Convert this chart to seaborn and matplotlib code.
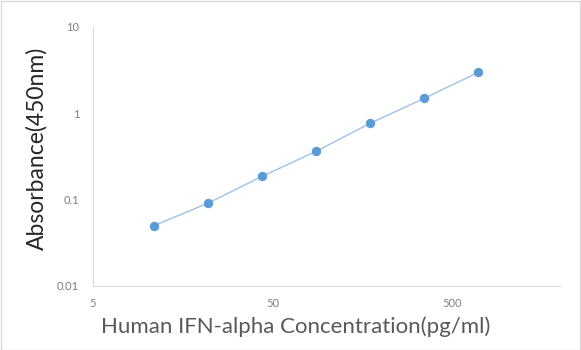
import matplotlib
matplotlib.use("Agg")
import matplotlib.pyplot as plt
import seaborn as sns
import numpy as np
import pandas as pd
from matplotlib.ticker import FixedLocator, NullFormatter

concentration = [10.94, 21.88, 43.75, 87.5, 175, 350, 700]
absorbance = [0.050, 0.091, 0.186, 0.363, 0.766, 1.49, 2.98]
x_ticks = [5, 50, 500]
x_tick_labels = ["5", "50", "500"]
y_ticks = [0.01, 0.1, 1, 10]
y_tick_labels = ["0.01", "0.1", "1", "10"]

sns.set_style("white")
plt.rcParams['font.family'] = ['Lato', 'DejaVu Sans']

fig = plt.figure(figsize=(5.81, 3.5), dpi=100)
ax = fig.add_axes([0.160, 0.183, 0.804, 0.740])

df = pd.DataFrame({"conc": concentration, "abs": absorbance})
sns.lineplot(data=df, x="conc", y="abs", ax=ax, color="#9DC3E6", linewidth=1.0,
             marker="o", markersize=6, markerfacecolor="#5B9BD5",
             markeredgecolor="#5B9BD5", zorder=3)

ax.set_xscale("log")
ax.set_yscale("log")
ax.set_xlim(5, 2000)
ax.set_ylim(0.01, 10)

ax.set_xticks(x_ticks)
ax.set_xticklabels(x_tick_labels)
ax.set_yticks(y_ticks)
ax.set_yticklabels(y_tick_labels)

xminor = [5 * 10**d * k for d in range(3) for k in range(2, 10)]
xminor = [v for v in xminor if v <= 2000]
yminor = [10.0**d * k for d in range(-2, 1) for k in range(2, 10)]
ax.xaxis.set_minor_locator(FixedLocator(xminor))
ax.yaxis.set_minor_locator(FixedLocator(yminor))
ax.xaxis.set_minor_formatter(NullFormatter())
ax.yaxis.set_minor_formatter(NullFormatter())

for side in ["top", "right"]:
    ax.spines[side].set_visible(False)
for side in ["left", "bottom"]:
    ax.spines[side].set_color("#D9D9D9")
    ax.spines[side].set_linewidth(0.8)

ax.tick_params(axis="both", which="major", direction="out", length=0,
               labelsize=8, labelcolor="#7F7F7F")
ax.tick_params(axis="both", which="minor", direction="inout", length=3,
               width=0.6, color="#D9D9D9")
ax.tick_params(axis="x", which="major", pad=9)
ax.tick_params(axis="y", which="major", pad=10)

ax.set_xlabel("Human IFN-alpha Concentration(pg/ml)", fontsize=16, color="#595959")
ax.set_ylabel("Absorbance(450nm)", fontsize=16.5, color="#262626")
# label positions in axes coordinates
ax.xaxis.set_label_coords((296 - 93) / 467, -(327 - 286) / 259)
ax.xaxis.label.set_va("center")
ax.yaxis.set_label_coords(-(93 - 37) / 467, (286 - 148) / 259)
ax.yaxis.label.set_va("center")

# chart border
border = plt.Rectangle((0.001, 0.001), 0.997, 0.997, transform=fig.transFigure,
                       fill=False, edgecolor="#D9D9D9", linewidth=1.0)
fig.add_artist(border)

fig.savefig("out.png", dpi=100)
